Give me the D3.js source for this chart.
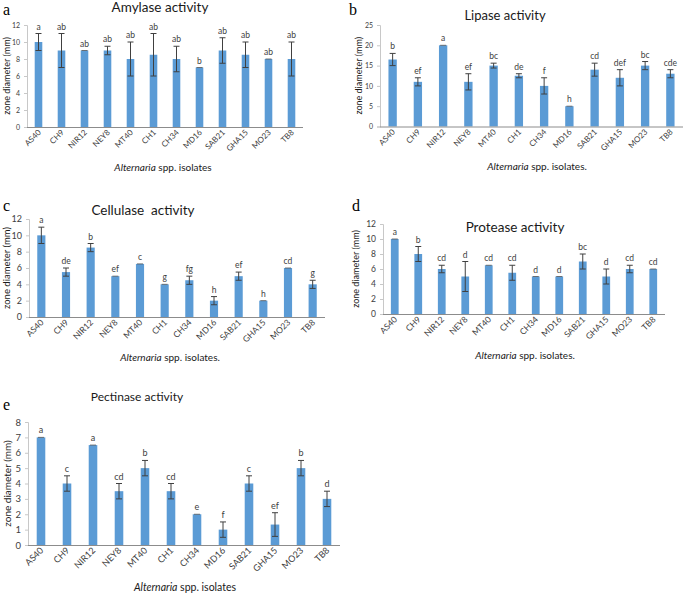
<!DOCTYPE html>
<html><head><meta charset="utf-8">
<script src="https://cdn.jsdelivr.net/npm/d3@7"></script>
<style>body{margin:0;background:#fff}svg{display:block}</style>
</head><body>
<script>
const isolates = ["AS40","CH9","NIR12","NEY8","MT40","CH1","CH34","MD16","SAB21","GHA15","MO23","TB8"];

const amylaseMean = [10,9,9,9,8,8.5,8,7,9,8.5,8,8];
const amylaseErr = [1,2,0,0.5,2,2.5,1.5,0,1.5,1.5,0,2];
const amylaseLetters = ["a","ab","ab","ab","ab","ab","ab","b","ab","ab","ab","ab"];
const amylaseTicks = [0,2,4,6,8,10,12];

const lipaseMean = [16.5,11,20,11,15,12.5,10,5,14,12,15,13];
const lipaseErr = [1.5,1,0,2,0.6,0.5,2,0,1.6,2,1,1];
const lipaseLetters = ["b","ef","a","ef","bc","de","f","h","cd","def","bc","cde"];
const lipaseTicks = [0,5,10,15,20,25];

const cellulaseMean = [10,5.5,8.5,5,6.5,4,4.5,2,5,2,6,4];
const cellulaseErr = [1,0.5,0.5,0,0,0,0.5,0.5,0.5,0,0,0.5];
const cellulaseLetters = ["a","de","b","ef","c","g","fg","h","ef","h","cd","g"];
const cellulaseTicks = [0,2,4,6,8,10,12];

const proteaseMean = [10,8,6,5,6.5,5.5,5,5,7,5,6,6];
const proteaseErr = [0,1,0.5,2,0,1,0,0,1,1,0.5,0];
const proteaseLetters = ["a","b","cd","d","cd","cd","d","d","bc","d","cd","cd"];
const proteaseTicks = [0,2,4,6,8,10,12];

const pectinaseMean = [7,4,6.5,3.5,5,3.5,2,1,4,1.33,5,3];
const pectinaseErr = [0,0.5,0,0.5,0.5,0.5,0,0.5,0.5,0.77,0.5,0.5];
const pectinaseLetters = ["a","c","a","cd","b","cd","e","f","c","ef","b","d"];
const pectinaseTicks = [0,1,2,3,4,5,6,7,8];

const W = 685, H = 594;
const svg = d3.select("body").append("svg").attr("width", W).attr("height", H);
const FONT = "Lato, 'Open Sans', sans-serif";

function panel(o) {
  const g = svg.append("g");
  const x = d3.scaleBand().domain(isolates).range([o.x0, o.x1]).paddingInner(0.67).paddingOuter(0.335);
  const y = d3.scaleLinear().domain([0, d3.max(o.ticks)]).range([o.yb, o.yt]);

  // panel letter
  g.append("text").attr("x", o.lx).attr("y", o.ly).text(o.letter)
    .attr("font-family", "'Liberation Serif', 'Times New Roman', serif").attr("font-size", 16).attr("fill", "#000");
  // title
  g.append("text").attr("x", o.tx).attr("y", o.ty).attr("text-anchor", "middle").text(o.title)
    .attr("font-family", FONT).attr("font-size", o.tfs).attr("fill", "#1a1a1a").style("white-space", "pre");

  // y axis
  const ya = d3.axisLeft(y).tickValues(o.ticks).tickSize(3).tickFormat(d3.format("d"));
  const yg = g.append("g").attr("transform", `translate(${o.x0},0)`).call(ya);
  yg.select(".domain").attr("stroke", "#c8c8c8");
  yg.selectAll(".tick line").attr("stroke", "#c8c8c8");
  yg.selectAll(".tick text").attr("font-family", FONT).attr("font-size", o.yfs).attr("fill", "#404040").attr("dx", -1);

  // y title
  g.append("text").attr("transform", `translate(${o.ytx},${(o.yt + o.yb) / 2}) rotate(-90)`)
    .attr("text-anchor", "middle").attr("dy", "0.35em").text("zone diameter (mm)")
    .attr("font-family", FONT).attr("font-size", o.ytfs).attr("fill", "#1a1a1a");

  // bars
  g.selectAll("rect.bar").data(o.mean).enter().append("rect")
    .attr("x", (d, i) => x(isolates[i])).attr("width", x.bandwidth())
    .attr("y", d => y(d)).attr("height", d => o.yb - y(d)).attr("fill", "#5b9bd5");

  // error bars
  const eg = g.append("g").attr("stroke", "#404040").attr("stroke-width", 1);
  o.mean.forEach((m, i) => {
    const e = o.err[i];
    const cx = x(isolates[i]) + x.bandwidth() / 2;
    if (e > 0) {
      eg.append("line").attr("x1", cx).attr("x2", cx).attr("y1", y(m + e)).attr("y2", y(m - e));
      eg.append("line").attr("x1", cx - 3).attr("x2", cx + 3).attr("y1", y(m + e)).attr("y2", y(m + e));
      eg.append("line").attr("x1", cx - 3).attr("x2", cx + 3).attr("y1", y(m - e)).attr("y2", y(m - e));
    } else {
      eg.append("line").attr("x1", cx - 3).attr("x2", cx + 3).attr("y1", y(m)).attr("y2", y(m)).attr("stroke", "#555").attr("stroke-width", 0.8);
    }
  });

  // significance letters
  g.selectAll("text.sig").data(o.letters).enter().append("text")
    .attr("x", (d, i) => x(isolates[i]) + x.bandwidth() / 2)
    .attr("y", (d, i) => y(o.mean[i] + o.err[i]) - 4)
    .attr("text-anchor", "middle").text(d => d)
    .attr("font-family", FONT).attr("font-size", o.sfs).attr("fill", "#404040");

  // x axis
  const xa = d3.axisBottom(x).tickSize(0).tickFormat(d => d);
  const xg = g.append("g").attr("transform", `translate(0,${o.yb})`).call(xa);
  xg.select(".domain").attr("stroke", "#8c8c8c").attr("d", `M${o.x0},0.5H${o.x1}`);
  xg.selectAll(".tick text").attr("font-family", FONT).attr("font-size", o.xfs).attr("fill", "#404040")
    .attr("text-anchor", "end").attr("y", 0).attr("dy", 0)
    .attr("transform", `translate(3,${o.xoff}) rotate(-45)`);

  // x title
  const xt = g.append("text").attr("x", o.xtx).attr("y", o.xty).attr("text-anchor", "middle")
    .attr("font-family", FONT).attr("font-size", o.xtfs).attr("fill", "#1a1a1a");
  xt.append("tspan").attr("font-style", "italic").text("Alternaria");
  xt.append("tspan").text(" spp. isolates" + o.dot);
}

panel({letter: "a", lx: 3, ly: 15, title: "Amylase activity", tx: 160, ty: 12, tfs: 13.5,
  x0: 27, x1: 303, yt: 25, yb: 127, ticks: amylaseTicks, mean: amylaseMean, err: amylaseErr, letters: amylaseLetters,
  yfs: 7, ytx: 7, ytfs: 9, sfs: 8.5, xfs: 8, xoff: 6, xtx: 163, xty: 171, xtfs: 10, dot: ""});

panel({letter: "b", lx: 349, ly: 15, title: "Lipase activity", tx: 505, ty: 20, tfs: 13,
  x0: 380, x1: 683, yt: 25, yb: 126.5, ticks: lipaseTicks, mean: lipaseMean, err: lipaseErr, letters: lipaseLetters,
  yfs: 7, ytx: 359, ytfs: 9, sfs: 8.5, xfs: 8, xoff: 6, xtx: 537, xty: 170, xtfs: 10, dot: "."});

panel({letter: "c", lx: 3, ly: 211, title: "Cellulase  activity", tx: 143, ty: 215, tfs: 13.5,
  x0: 29, x1: 325, yt: 219, yb: 317, ticks: cellulaseTicks, mean: cellulaseMean, err: cellulaseErr, letters: cellulaseLetters,
  yfs: 9, ytx: 7, ytfs: 9.5, sfs: 8.5, xfs: 8.5, xoff: 6, xtx: 170, xty: 361, xtfs: 10, dot: "."});

panel({letter: "d", lx: 352, ly: 211, title: "Protease activity", tx: 515, ty: 232, tfs: 13.5,
  x0: 383, x1: 665, yt: 224, yb: 314, ticks: proteaseTicks, mean: proteaseMean, err: proteaseErr, letters: proteaseLetters,
  yfs: 8.5, ytx: 356, ytfs: 9, sfs: 8.5, xfs: 8.5, xoff: 6, xtx: 525, xty: 359, xtfs: 10, dot: "."});

panel({letter: "e", lx: 3, ly: 410, title: "Pectinase activity", tx: 137, ty: 401, tfs: 12,
  x0: 28, x1: 340, yt: 422, yb: 545, ticks: pectinaseTicks, mean: pectinaseMean, err: pectinaseErr, letters: pectinaseLetters,
  yfs: 9.5, ytx: 7, ytfs: 10, sfs: 9, xfs: 9, xoff: 6, xtx: 185, xty: 591, xtfs: 10.5, dot: ""});
</script>
</body></html>
